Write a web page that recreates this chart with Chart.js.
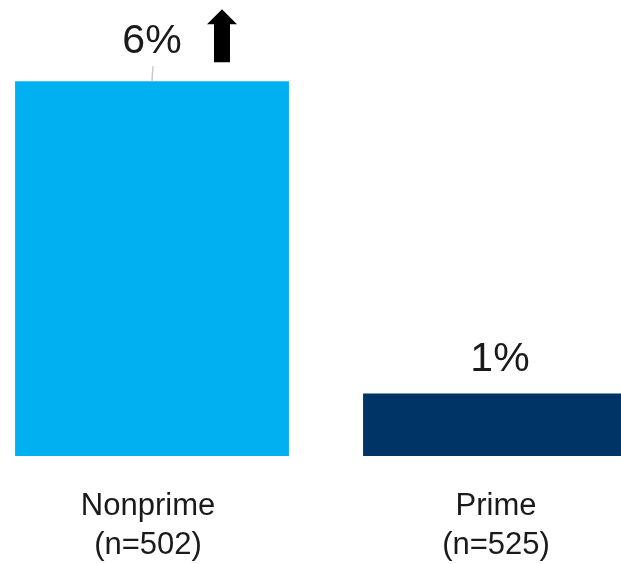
<!DOCTYPE html>
<html>
<head>
<meta charset="utf-8">
<script src="https://cdn.jsdelivr.net/npm/chart.js@4/dist/chart.umd.min.js"></script>
<style>
  html, body { margin: 0; padding: 0; background: #fff; overflow: hidden; }
  body { width: 621px; height: 564px; position: relative; }
  /* область графика чуть шире окна: правый столбец обрезан краем */
  #wrap { position: absolute; left: -22px; top: 0; width: 696px; height: 564px; }
</style>
</head>
<body>
<div id="wrap"><canvas id="chart"></canvas></div>
<script>
// Данные
const categories = ['Nonprime', 'Prime'];
const sampleSizes = ['(n=502)', '(n=525)'];
const values = [6, 1];
const significantUp = [true, false];
const barColors = ['#00B0F0', '#003366'];

const FONT = "'Liberation Sans', Arial, sans-serif";
const TEXT_COLOR = '#1a1a1a';

// Подписи значений, выносная линия и стрелка
const valueLabels = {
  id: 'valueLabels',
  afterDatasetsDraw(chart) {
    const ctx = chart.ctx;
    const meta = chart.getDatasetMeta(0);
    ctx.save();
    ctx.font = `41px ${FONT}`;
    ctx.fillStyle = TEXT_COLOR;
    ctx.textAlign = 'center';
    ctx.textBaseline = 'middle';
    meta.data.forEach((bar, i) => {
      const hasArrow = significantUp[i];
      const lift = hasArrow ? 40 : 34;
      ctx.fillText(values[i] + '%', bar.x, bar.y - lift);

      if (hasArrow) {
        // выносная линия
        ctx.strokeStyle = '#c8c8c8';
        ctx.lineWidth = 1.5;
        ctx.beginPath();
        ctx.moveTo(bar.x + 1, bar.y - 15);
        ctx.lineTo(bar.x, bar.y);
        ctx.stroke();

        // стрелка вверх
        const cx = bar.x + 70;
        const top = bar.y - 72;
        const bottom = bar.y - 19;
        ctx.fillStyle = '#000';
        ctx.beginPath();
        ctx.moveTo(cx, top);
        ctx.lineTo(cx + 15, top + 15);
        ctx.lineTo(cx + 8, top + 15);
        ctx.lineTo(cx + 8, bottom);
        ctx.lineTo(cx - 8, bottom);
        ctx.lineTo(cx - 8, top + 15);
        ctx.lineTo(cx - 15, top + 15);
        ctx.closePath();
        ctx.fill();
        ctx.fillStyle = TEXT_COLOR;
      }
    });
    ctx.restore();
  }
};

const ctx = document.getElementById('chart').getContext('2d');
new Chart(ctx, {
  type: 'bar',
  data: {
    labels: categories.map((c, i) => [c, sampleSizes[i]]),
    datasets: [{
      data: values,
      backgroundColor: barColors,
      borderWidth: 0,
      barPercentage: 0.787,
      categoryPercentage: 1
    }]
  },
  options: {
    responsive: true,
    maintainAspectRatio: false,
    animation: false,
    layout: { padding: 0 },
    plugins: {
      legend: { display: false },
      tooltip: { enabled: false }
    },
    scales: {
      x: {
        grid: { display: false, drawTicks: false },
        border: { display: false },
        ticks: {
          color: TEXT_COLOR,
          font: { family: FONT, size: 31, lineHeight: '39px' },
          padding: 31,
          labelOffset: -4,
          maxRotation: 0,
          autoSkip: false
        },
        afterFit: scale => { scale.height = 108; }
      },
      y: {
        display: false,
        min: 0,
        max: 7.3
      }
    }
  },
  plugins: [valueLabels]
});
</script>
</body>
</html>
